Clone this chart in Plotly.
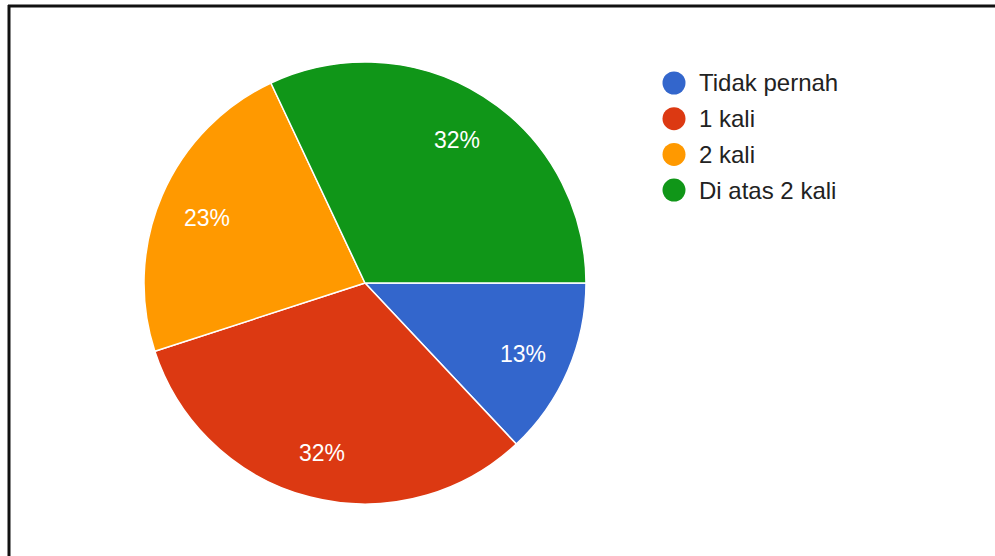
import math
import plotly.graph_objects as go

# Survey answers and their shares (percent)
categories = ["Tidak pernah", "1 kali", "2 kali", "Di atas 2 kali"]
shares = [13, 32, 23, 32]
colors = ["#3366CC", "#DC3912", "#FF9900", "#109618"]

W, H = 995, 556
CX, CY, R = 365, 283, 221          # pie centre and radius in pixels
LABEL_R = 0.78                      # radial position of the percentage labels
LABEL_DY = 3                        # small downward nudge to centre the glyphs

fig = go.Figure()

fig.add_trace(go.Pie(
    labels=categories,
    values=shares,
    sort=False,
    direction="clockwise",
    rotation=90,
    marker=dict(colors=colors, line=dict(color="white", width=1.5)),
    textinfo="none",
    hoverinfo="label+percent",
    showlegend=False,
    domain=dict(x=[(CX - R) / W, (CX + R) / W],
                y=[1 - (CY + R) / H, 1 - (CY - R) / H]),
))

annotations = []
shapes = []

# Percentage labels placed along each slice's bisector
total = sum(shares)
cum = 0
for v in shares:
    mid = (cum + v / 2) / total * 2 * math.pi
    cum += v
    px = CX + LABEL_R * R * math.cos(mid)
    py = CY + LABEL_R * R * math.sin(mid) + LABEL_DY
    annotations.append(dict(
        x=px / W, y=1 - py / H, xref="paper", yref="paper",
        text=f"{round(v / total * 100)}%", showarrow=False,
        font=dict(family="Liberation Sans, Arial, sans-serif", size=23, color="white"),
        xanchor="center", yanchor="middle",
    ))

# Legend with round swatches
LEG_X, LEG_Y0, LEG_DY, DOT = 674, 83, 35.7, 23
for i, (name, col) in enumerate(zip(categories, colors)):
    yc = LEG_Y0 + i * LEG_DY
    shapes.append(dict(
        type="circle", xref="paper", yref="paper",
        x0=(LEG_X - DOT / 2) / W, x1=(LEG_X + DOT / 2) / W,
        y0=1 - (yc + DOT / 2) / H, y1=1 - (yc - DOT / 2) / H,
        fillcolor=col, line=dict(width=0),
    ))
    annotations.append(dict(
        x=697 / W, y=1 - yc / H, xref="paper", yref="paper",
        text=name, showarrow=False,
        font=dict(family="Liberation Sans, Arial, sans-serif", size=24, color="#222222"),
        xanchor="left", yanchor="middle",
    ))

# Frame lines along the top and left edges
shapes.append(dict(type="line", xref="paper", yref="paper",
                   x0=8 / W, x1=1, y0=1 - 6 / H, y1=1 - 6 / H,
                   line=dict(color="#111111", width=3)))
shapes.append(dict(type="line", xref="paper", yref="paper",
                   x0=9 / W, x1=9 / W, y0=0, y1=1 - 5 / H,
                   line=dict(color="#111111", width=3)))

fig.update_layout(
    width=W, height=H,
    margin=dict(l=0, r=0, t=0, b=0),
    paper_bgcolor="white",
    plot_bgcolor="white",
    annotations=annotations,
    shapes=shapes,
)

fig.write_html("out.html")
